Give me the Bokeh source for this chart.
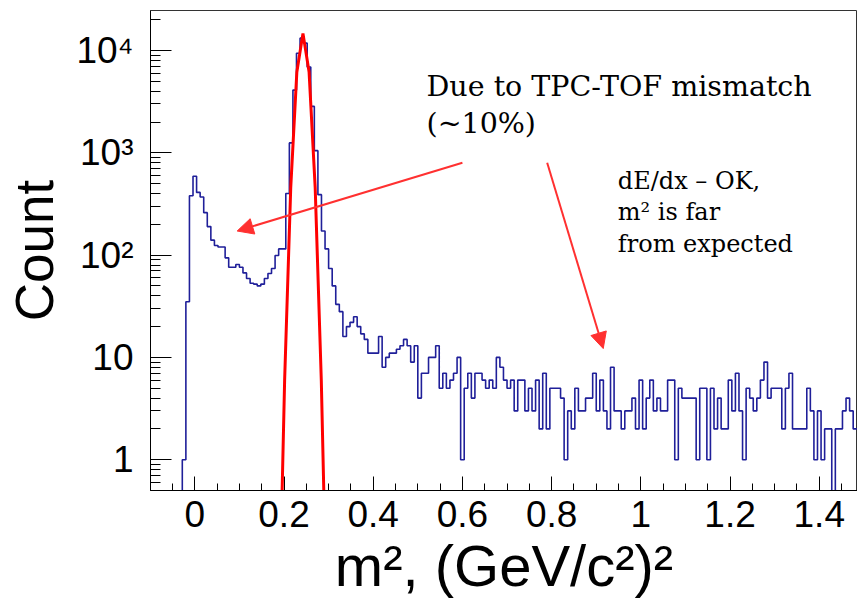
import numpy as np
from bokeh.plotting import figure
from bokeh.models import Range1d, FixedTicker, Arrow, NormalHead, Label
from bokeh.embed import file_html
from bokeh.resources import INLINE

# ---------------- data ----------------
bin_lo = -0.1
bin_width = 0.008
counts = [
    0, 0, 0, 0, 0, 0, 0, 0, 0, 1,
    35, 380, 590, 410, 370, 260, 190, 140, 124, 120,
    120, 94, 76, 76, 81, 76, 67, 59, 53, 52,
    50, 52, 59, 66, 74, 99, 115, 115, 400, 1250,
    4100, 9400, 13200, 11800, 6900, 2840, 1050, 390, 172, 115,
    74, 50, 33, 28, 16, 20, 22, 25, 20, 17,
    15, 11, 11, 11, 16, 8, 10, 11, 11, 12,
    13, 15, 13, 9, 13, 4, 7, 7, 10, 10,
    13, 5, 7, 5, 6, 7, 10, 1, 5, 7,
    4, 7, 7, 6, 5, 6, 5, 10, 8, 6,
    5, 6, 3, 6, 6, 3, 5, 3, 6, 2,
    7, 2, 5, 5, 5, 4, 1, 3, 2, 5,
    3, 3, 4, 4, 7, 3, 6, 3, 2, 8,
    3, 3, 2, 3, 3, 4, 2, 6, 2, 4,
    6, 3, 4, 3, 3, 6, 6, 1, 5, 4,
    4, 4, 4, 1, 5, 5, 1, 5, 2, 4,
    2, 2, 6, 3, 7, 3, 1, 5, 4, 3,
    4, 6, 9, 4, 5, 5, 5, 2, 5, 7,
    2, 2, 2, 2, 5, 3, 1, 3, 1, 2,
    2, 0, 2, 2, 3, 4, 3, 2, 2, 1,
]
# gaussian fit parameters (drawn coarsely sampled, as in the source)
fit_mean = 0.2425
fit_sigma = 0.0104
fit_amp = 14700.0
fit_step = 0.0137

x_ticks = [0, 0.2, 0.4, 0.6, 0.8, 1.0, 1.2, 1.4]
x_tick_labels = ["0", "0.2", "0.4", "0.6", "0.8", "1", "1.2", "1.4"]
y_ticks = [1, 10, 100, 1000, 10000]
y_tick_labels = ["1", "10", "10²", "10³", "10⁴"]

x_title = "m², (GeV/c²)²"
y_title = "Count"
note1_lines = ["Due to TPC-TOF mismatch", "(~10%)"]
note2_lines = ["dE/dx – OK,", "m² is far", "from expected"]

# ---------------- figure ----------------
p = figure(width=857, height=602,
           x_range=Range1d(-0.0993, 1.4857),
           y_range=Range1d(0.5, 24600),
           y_axis_type="log",
           output_backend="svg", toolbar_location=None,
           min_border_left=150, min_border_right=0,
           min_border_top=10, min_border_bottom=112)
p.background_fill_color = "white"
p.border_fill_color = "white"
p.outline_line_color = "#333333"
p.outline_line_width = 1
p.xgrid.visible = False
p.ygrid.visible = False

# histogram outline
edges = bin_lo + bin_width * np.arange(len(counts) + 1)
c = np.array(counts, dtype=float)
disp = np.where(c > 0, c, 0.1)
xs = np.concatenate([[edges[0]], np.repeat(edges, 2)[1:-1], [edges[-1]]])
ys = np.concatenate([[0.1], np.repeat(disp, 2), [0.1]])
p.line(xs, ys, line_color="#1f1f99", line_width=1.6)

# gaussian fit
fx = fit_mean + fit_step * np.arange(-4, 5)
fy = fit_amp * np.exp(-0.5 * ((fx - fit_mean) / fit_sigma) ** 2)
p.line(fx, fy, line_color="#ff0000", line_width=3)

# arrows
red = "#ff3030"
p.add_layout(Arrow(end=NormalHead(size=16, fill_color=red, line_color=red),
                   x_start=0.600, y_start=800, x_end=0.095, y_end=172,
                   line_color=red, line_width=2))
p.add_layout(Arrow(end=NormalHead(size=16, fill_color=red, line_color=red),
                   x_start=0.790, y_start=800, x_end=0.9157, y_end=12.2,
                   line_color=red, line_width=2))

# notes
serif = "DejaVu Serif"
for txt, yv in zip(note1_lines, [4460, 1938]):
    p.add_layout(Label(x=0.5195, y=yv, text=txt, text_font=serif,
                       text_font_size="28.5px", text_color="black",
                       text_baseline="alphabetic"))
for txt, yv in zip(note2_lines, [529, 263, 129]):
    p.add_layout(Label(x=0.9484, y=yv, text=txt, text_font=serif,
                       text_font_size="24px", text_color="black",
                       text_baseline="alphabetic"))

sans = "Liberation Sans"

# axes
xa = p.xaxis[0]
xa.ticker = FixedTicker(ticks=x_ticks, minor_ticks=list(np.round(np.arange(-0.05, 1.5, 0.05), 3)))
xa.major_label_overrides = {t: l for t, l in zip(x_ticks, x_tick_labels)}
xa.major_tick_in = 14
xa.major_tick_out = 0
xa.minor_tick_in = 7
xa.minor_tick_out = 0
xa.major_label_text_font = sans
xa.major_label_text_font_size = "37px"
xa.major_label_text_color = "black"
xa.major_label_standoff = 10
xa.axis_line_color = "black"
xa.major_tick_line_color = "black"
xa.minor_tick_line_color = "black"
xa.axis_label = x_title
xa.axis_label_text_font = sans
xa.axis_label_text_font_size = "58px"
xa.axis_label_text_font_style = "normal"
xa.axis_label_text_color = "black"
xa.axis_label_standoff = 3

ya = p.yaxis[0]
minor = [m * 10.0 ** e for e in range(-1, 5) for m in range(2, 10)]
ya.ticker = FixedTicker(ticks=y_ticks, minor_ticks=minor)
ya.major_label_overrides = {t: l for t, l in zip(y_ticks, y_tick_labels)}
ya.major_tick_in = 21
ya.major_tick_out = 0
ya.minor_tick_in = 10
ya.minor_tick_out = 0
ya.major_label_text_font = sans
ya.major_label_text_font_size = "37px"
ya.major_label_text_color = "black"
ya.major_label_standoff = 17
ya.axis_line_color = "black"
ya.major_tick_line_color = "black"
ya.minor_tick_line_color = "black"
ya.axis_label = y_title
ya.axis_label_text_font = sans
ya.axis_label_text_font_size = "53px"
ya.axis_label_text_font_style = "normal"
ya.axis_label_text_color = "black"
ya.axis_label_standoff = 9

open("out.html", "w").write(file_html(p, INLINE))
